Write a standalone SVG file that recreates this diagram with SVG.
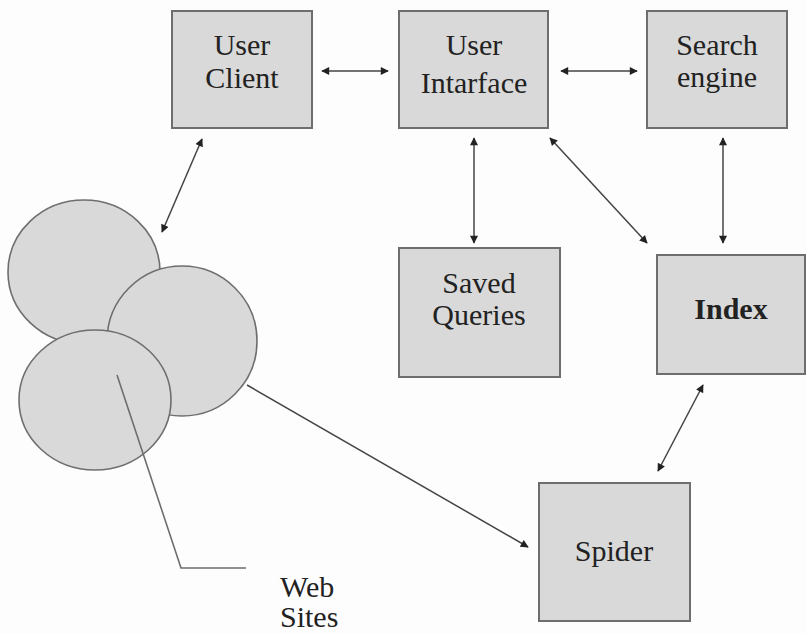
<svg xmlns="http://www.w3.org/2000/svg" width="806" height="634" viewBox="0 0 806 634">
<defs>
<marker id="ah" viewBox="0 0 10 10" refX="9" refY="5" markerWidth="9" markerHeight="8" markerUnits="userSpaceOnUse" orient="auto-start-reverse">
<path d="M0,0 L10,5 L0,10 z" fill="#222"/>
</marker>
</defs>
<style>
.box{fill:#d9d9d9;stroke:#6e6e6e;stroke-width:2}
.site{fill:#d9d9d9;stroke:#6e6e6e;stroke-width:1.6}
.lbl{font-family:'Times New Roman',Times,'Liberation Serif','DejaVu Serif','Noto Serif',serif;font-size:30px;font-weight:normal;fill:#222;text-anchor:middle}
.bold{font-weight:bold}
.con{stroke:#444;stroke-width:1.5;fill:none}
.lead{stroke:#6e6e6e;stroke-width:1.6;fill:none}
</style>
<rect width="806" height="634" fill="#fdfdfd"/>
<g id="web-sites">
<ellipse class="site" cx="84" cy="272" rx="76" ry="72"/>
<ellipse class="site" cx="182" cy="341" rx="75" ry="75"/>
<ellipse class="site" cx="95" cy="400" rx="76" ry="70"/>
<polyline class="lead" points="117,375 181,568 246,568"/>
<text class="lbl" x="280" y="597" style="text-anchor:start">Web</text>
<text class="lbl" x="280" y="627" style="text-anchor:start">Sites</text>
</g>
<g id="user-client">
<rect class="box" x="172" y="11" width="140" height="117"/>
<text class="lbl" x="242" y="55">User</text>
<text class="lbl" x="242" y="88">Client</text>
</g>
<g id="user-interface">
<rect class="box" x="399" y="11" width="149" height="117"/>
<text class="lbl" x="474" y="55">User</text>
<text class="lbl" x="474" y="93">Intarface</text>
</g>
<g id="search-engine">
<rect class="box" x="647" y="11" width="140" height="117"/>
<text class="lbl" x="717" y="55">Search</text>
<text class="lbl" x="717" y="87">engine</text>
</g>
<g id="saved-queries">
<rect class="box" x="399" y="248" width="161" height="129"/>
<text class="lbl" x="479" y="293">Saved</text>
<text class="lbl" x="479" y="325">Queries</text>
</g>
<g id="index">
<rect class="box" x="657" y="255" width="148" height="119"/>
<text class="lbl bold" x="731" y="319">Index</text>
</g>
<g id="spider">
<rect class="box" x="539" y="483" width="151" height="138"/>
<text class="lbl" x="614" y="561">Spider</text>
</g>
<g id="connectors">
<line class="con" x1="322" y1="71" x2="388" y2="71" marker-start="url(#ah)" marker-end="url(#ah)"/>
<line class="con" x1="561" y1="71" x2="637" y2="71" marker-start="url(#ah)" marker-end="url(#ah)"/>
<line class="con" x1="202" y1="139" x2="162" y2="232" marker-start="url(#ah)" marker-end="url(#ah)"/>
<line class="con" x1="474" y1="138" x2="474" y2="243" marker-start="url(#ah)" marker-end="url(#ah)"/>
<line class="con" x1="550" y1="138" x2="647" y2="243" marker-start="url(#ah)" marker-end="url(#ah)"/>
<line class="con" x1="723" y1="138" x2="723" y2="243" marker-start="url(#ah)" marker-end="url(#ah)"/>
<line class="con" x1="703" y1="385" x2="658" y2="471" marker-start="url(#ah)" marker-end="url(#ah)"/>
<line class="con" x1="247" y1="385" x2="528" y2="547" marker-end="url(#ah)"/>
</g>
</svg>
